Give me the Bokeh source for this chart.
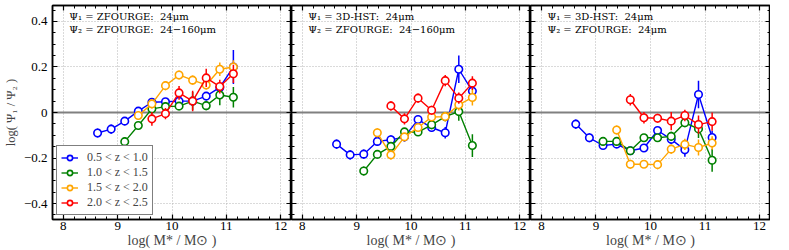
from bokeh.plotting import figure
from bokeh.layouts import row
from bokeh.models import (LinearAxis, SingleIntervalTicker, Span, Label, Legend,
                          LegendItem, Range1d, ColumnDataSource)
from bokeh.embed import file_html
from bokeh.resources import INLINE

# ---------------- data ----------------
mass = [8.63, 8.88, 9.13, 9.38, 9.63, 9.88, 10.13, 10.38, 10.63, 10.88, 11.13]
z_labels = ["0.5 < z < 1.0", "1.0 < z < 1.5", "1.5 < z < 2.0", "2.0 < z < 2.5"]
z_start = [0, 2, 3, 4]  # index into mass where each series starts
colors = ["#0000ff", "#008000", "#ffa500", "#ff0000"]

NB = "\u00a0"
panel_titles = [
    ("Ψ₁ = ZFOURGE:" + NB + NB + "24μm", "Ψ₂ = ZFOURGE:" + NB + NB + "24−160μm"),
    ("Ψ₁ = 3D-HST:" + NB + NB + "24μm", "Ψ₂ = ZFOURGE:" + NB + NB + "24−160μm"),
    ("Ψ₁ = 3D-HST:" + NB + NB + "24μm", "Ψ₂ = ZFOURGE:" + NB + NB + "24μm"),
]

# panel 1: ZFOURGE 24 vs ZFOURGE 24-160
p1_blue = [-0.090, -0.073, -0.038, 0.006, 0.045, 0.047, 0.050, 0.050, 0.072, 0.110, 0.200]
p1_blue_err = [0.02, 0.02, 0.018, 0.018, 0.015, 0.015, 0.015, 0.015, 0.018, 0.02, 0.075]
p1_green = [-0.128, -0.057, 0.016, 0.026, 0.028, 0.050, 0.030, 0.077, 0.067]
p1_green_err = [0.02, 0.018, 0.02, 0.02, 0.015, 0.04, 0.02, 0.045, 0.045]
p1_orange = [-0.013, 0.038, 0.118, 0.165, 0.142, 0.121, 0.190, 0.200]
p1_orange_err = [0.02, 0.02, 0.02, 0.02, 0.02, 0.02, 0.03, 0.03]
p1_red = [-0.028, -0.005, 0.086, 0.050, 0.152, 0.114, 0.170]
p1_red_err = [0.03, 0.025, 0.03, 0.045, 0.04, 0.03, 0.04]

# panel 2: 3D-HST 24 vs ZFOURGE 24-160
p2_blue = [-0.139, -0.186, -0.183, -0.127, -0.120, -0.107, -0.031, -0.066, -0.089, 0.190, 0.094]
p2_blue_err = [0.02, 0.02, 0.02, 0.02, 0.02, 0.02, 0.02, 0.02, 0.025, 0.06, 0.03]
p2_green = [-0.257, -0.184, -0.149, -0.085, -0.086, -0.054, -0.018, 0.004, -0.145]
p2_green_err = [0.02, 0.015, 0.015, 0.015, 0.015, 0.02, 0.02, 0.04, 0.05]
p2_orange = [-0.089, -0.186, -0.107, -0.066, -0.020, -0.018, 0.034, 0.066]
p2_orange_err = [0.02, 0.02, 0.015, 0.015, 0.015, 0.02, 0.025, 0.035]
p2_red = [0.029, -0.028, 0.063, 0.010, 0.140, 0.063, 0.129]
p2_red_err = [0.02, 0.025, 0.02, 0.02, 0.025, 0.025, 0.03]

# panel 3: 3D-HST 24 vs ZFOURGE 24
p3_blue = [-0.051, -0.111, -0.145, -0.139, -0.168, -0.156, -0.079, -0.118, -0.164, 0.079, -0.110]
p3_blue_err = [0.02, 0.02, 0.015, 0.015, 0.015, 0.015, 0.015, 0.02, 0.03, 0.06, 0.03]
p3_green = [-0.127, -0.127, -0.168, -0.111, -0.111, -0.105, -0.045, -0.072, -0.210]
p3_green_err = [0.015, 0.015, 0.015, 0.015, 0.015, 0.02, 0.02, 0.04, 0.05]
p3_orange = [-0.077, -0.227, -0.227, -0.229, -0.161, -0.140, -0.154, -0.134]
p3_orange_err = [0.02, 0.02, 0.015, 0.02, 0.02, 0.025, 0.035, 0.03]
p3_red = [0.056, -0.023, -0.025, -0.038, -0.013, -0.053, -0.040]
p3_red_err = [0.025, 0.025, 0.02, 0.04, 0.025, 0.04, 0.04]

panels = [
    [(p1_blue, p1_blue_err), (p1_green, p1_green_err), (p1_orange, p1_orange_err), (p1_red, p1_red_err)],
    [(p2_blue, p2_blue_err), (p2_green, p2_green_err), (p2_orange, p2_orange_err), (p2_red, p2_red_err)],
    [(p3_blue, p3_blue_err), (p3_green, p3_green_err), (p3_orange, p3_orange_err), (p3_red, p3_red_err)],
]

SERIF = "Liberation Serif"


def style_axis(ax, show_labels):
    ax.major_tick_in = 5
    ax.major_tick_out = 0
    ax.minor_tick_in = 3
    ax.minor_tick_out = 0
    ax.axis_line_width = 1.5
    ax.major_tick_line_width = 1.2
    ax.minor_tick_line_width = 1.0
    if show_labels:
        ax.major_label_text_font = SERIF
        ax.major_label_text_font_size = "13px"
        ax.major_label_text_color = "black"
    else:
        ax.major_label_text_font_size = "0px"
        ax.major_label_text_color = None
        ax.major_label_standoff = 0


def xticker():
    return SingleIntervalTicker(interval=1, num_minor_ticks=5)


def yticker():
    return SingleIntervalTicker(interval=0.2, num_minor_ticks=4)


figs = []
for i, series in enumerate(panels):
    p = figure(frame_width=239 if i < 2 else 240, frame_height=214,
               x_range=Range1d(7.8, 12.2), y_range=Range1d(-0.47, 0.47),
               output_backend="svg", toolbar_location=None,
               min_border_left=47 if i == 0 else 0, min_border_right=0,
               min_border_top=5, min_border_bottom=31)
    p.outline_line_color = "black"
    p.outline_line_width = 1.5
    p.background_fill_color = "white"

    p.xaxis.ticker = xticker()
    p.yaxis.ticker = yticker()
    style_axis(p.xaxis[0], True)
    style_axis(p.yaxis[0], i == 0)
    p.xaxis.major_label_standoff = 2
    p.xaxis.axis_label = "log( M* / M⊙ )"
    p.xaxis.axis_label_text_font = SERIF
    p.xaxis.axis_label_text_font_size = "14px"
    p.xaxis.axis_label_text_font_style = "normal"
    p.xaxis.axis_label_standoff = 0
    if i == 0:
        p.yaxis.axis_label = "log( Ψ₁ / Ψ₂ )"
        p.yaxis.axis_label_text_font = SERIF
        p.yaxis.axis_label_text_font_size = "12.5px"
        p.yaxis.axis_label_text_font_style = "normal"
        p.yaxis.axis_label_standoff = 3
        p.yaxis.major_label_standoff = 5

    top = LinearAxis(ticker=xticker())
    style_axis(top, False)
    p.add_layout(top, "above")
    right = LinearAxis(ticker=yticker())
    style_axis(right, False)
    p.add_layout(right, "right")

    for g in (p.xgrid[0], p.ygrid[0]):
        g.grid_line_color = "#b5b5b5"
        g.grid_line_dash = "1 2"
        g.grid_line_width = 1

    p.add_layout(Span(location=0, dimension="width", line_color="#808080",
                      line_width=2, level="underlay"))

    items = []
    for k, (vals, errs) in enumerate(series):
        xs = mass[z_start[k]:z_start[k] + len(vals)]
        src = ColumnDataSource(dict(
            x=xs, y=vals,
            lo=[v - e for v, e in zip(vals, errs)],
            hi=[v + e for v, e in zip(vals, errs)]))
        c = colors[k]
        p.segment(x0="x", y0="lo", x1="x", y1="hi", source=src,
                  line_color=c, line_width=1.5)
        ln = p.line("x", "y", source=src, line_color=c, line_width=1.4)
        sc = p.scatter("x", "y", source=src, marker="circle", size=7.5,
                       line_color=c, fill_color="white", line_width=1.6)
        items.append(LegendItem(label=z_labels[k], renderers=[ln, sc]))

    t1, t2 = panel_titles[i]
    p.add_layout(Label(x=8.11, y=0.445, text=t1, text_baseline="top",
                       text_font="DejaVu Serif", text_font_size="10px", text_color="black"))
    p.add_layout(Label(x=8.11, y=0.39, text=t2, text_baseline="top",
                       text_font="DejaVu Serif", text_font_size="10px", text_color="black"))

    if i == 0:
        leg = Legend(items=items, location="bottom_left", margin=4, padding=4,
                     spacing=0, label_height=13, glyph_height=13, glyph_width=17,
                     label_standoff=9, border_line_color="black", border_line_width=1.5,
                     label_text_font=SERIF, label_text_font_size="12px",
                     background_fill_alpha=1.0)
        p.add_layout(leg)

    figs.append(p)

layout = row(*figs)
open("out.html", "w").write(file_html(layout, INLINE))
